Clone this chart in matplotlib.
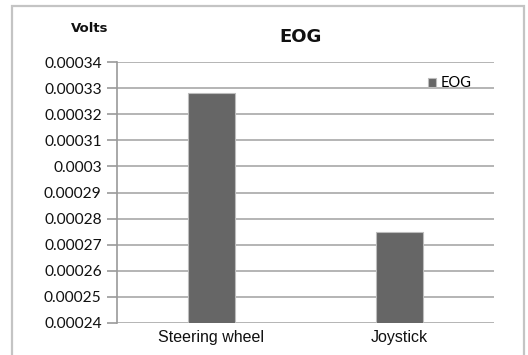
import matplotlib.pyplot as plt
from matplotlib.patches import Rectangle

categories = ['Steering wheel', 'Joystick']
eog_volts = [0.000328, 0.000275]
y_ticks = [0.00024, 0.00025, 0.00026, 0.00027, 0.00028, 0.00029,
           0.0003, 0.00031, 0.00032, 0.00033, 0.00034]
y_tick_labels = ['0.00024', '0.00025', '0.00026', '0.00027', '0.00028', '0.00029',
                 '0.0003', '0.00031', '0.00032', '0.00033', '0.00034']

W, H = 528, 355
fig = plt.figure(figsize=(W / 100, H / 100), dpi=100)
fig.patch.set_facecolor('white')

# chart frame (bottom edge runs off the image)
fig.patches.append(Rectangle((12 / W, -0.05), 512 / W, 1.05 - 6 / H,
                             transform=fig.transFigure, fill=False,
                             edgecolor='#c4c4c4', linewidth=1.6))

ax = fig.add_axes([117 / W, 1 - 323 / H, (494 - 117) / W, (323 - 62) / H])
x = range(len(categories))
ax.bar(x, eog_volts, width=0.25, color='#666666', edgecolor='#bdbdbd',
       linewidth=0.8, label='EOG', zorder=3)

ax.set_xlim(-0.5, 1.5)
ax.set_ylim(0.00024, 0.00034)
ax.set_yticks(y_ticks)
ax.set_yticklabels(y_tick_labels, family='Lato', fontsize=11.2, color='#111111')
ax.set_xticks(list(x))
ax.set_xticklabels(categories, family='Liberation Sans', fontsize=11.5,
                   color='#111111')
ax.tick_params(axis='x', length=0, pad=5)
ax.tick_params(axis='y', length=7, width=1.2, color='#9a9a9a', pad=4)

ax.grid(axis='y', color='#b4b4b4', linewidth=1.4, zorder=0)
for side in ['top', 'right', 'bottom']:
    ax.spines[side].set_visible(False)
ax.spines['left'].set_color('#9a9a9a')
ax.spines['left'].set_linewidth(1.2)

fig.text(301 / W, 1 - 37 / H, 'EOG', family='DejaVu Sans', fontweight='bold',
         fontsize=13, ha='center', va='center', color='#111111')
fig.text(90 / W, 1 - 28 / H, 'Volts', family='DejaVu Sans', fontweight='bold',
         fontsize=9.5, ha='center', va='center', color='#111111')

ax.legend(loc='upper right', bbox_to_anchor=(479 / W, 1 - 69 / H),
          bbox_transform=fig.transFigure, frameon=False,
          prop={'family': 'Lato', 'size': 10.5}, handlelength=0.6,
          handleheight=0.6, handletextpad=0.3, borderpad=0)

fig.savefig('out.png', dpi=100)
